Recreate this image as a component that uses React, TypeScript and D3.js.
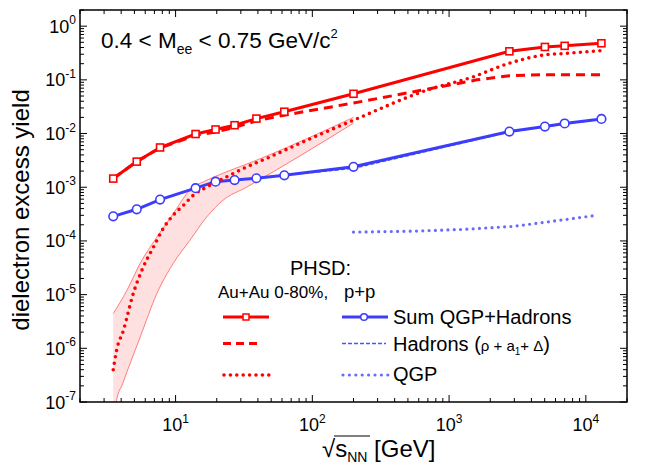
import React from 'react';
import * as d3 from 'd3';

const W = 648, H = 466;
const X0 = 80, X1 = 627, Y0 = 10, Y1 = 402;

// Au+Au 0-80% : Sum QGP + Hadrons (solid, squares)
const energiesAA = [3.5, 5.2, 7.7, 14, 19.6, 27, 39, 62.4, 200, 2760, 5020, 7000, 13000];
const sumAA = [1.45e-3, 3.0e-3, 5.5e-3, 9.8e-3, 1.19e-2, 1.43e-2, 1.9e-2, 2.55e-2, 5.5e-2, 0.34, 0.41, 0.43, 0.48];
// Au+Au hadrons (dashed)
const hadronEnergiesAA = [3.5, 5.2, 7.7, 14, 19.6, 27, 39, 62.4, 200, 1600, 2760, 5020, 7000, 13000];
const hadronAA = [1.45e-3, 3.0e-3, 5.4e-3, 9.3e-3, 1.07e-2, 1.3e-2, 1.72e-2, 2.2e-2, 3.7e-2, 0.10, 0.119, 0.125, 0.125, 0.124];
// Au+Au QGP (dotted)
const qgpEnergiesAA = [3.5, 3.7, 4.15, 4.9, 5.8, 6.9, 8.1, 9.6, 11.4, 13.5, 16.9, 22.3, 31.3, 49, 91, 200, 686, 1500, 2740, 4940, 6920, 12850];
const qgpAA = [4.0e-7, 9.1e-7, 2.14e-6, 1.04e-5, 3.25e-5, 7.7e-5, 1.69e-4, 3.0e-4, 4.6e-4, 7.1e-4, 1.01e-3, 1.45e-3, 2.23e-3, 3.67e-3, 7.5e-3, 1.77e-2, 6.4e-2, 0.114, 0.203, 0.29, 0.31, 0.35];
// QGP uncertainty band
const bandUpperE = [3.5, 4.4, 5.5, 7.3, 9.6, 12.7, 16.9, 22.2, 39, 200];
const bandUpper = [4.45e-6, 1.19e-5, 3.8e-5, 1.18e-4, 3.2e-4, 8.8e-4, 1.35e-3, 1.82e-3, 3.18e-3, 2.0e-2];
const bandLowerE = [3.5, 3.7, 4.1, 5.5, 7.3, 9.6, 12.7, 16.9, 22.2, 33, 200];
const bandLower = [4e-8, 1.06e-7, 2.2e-7, 1.6e-6, 1.05e-5, 3.8e-5, 1.02e-4, 2.8e-4, 5.7e-4, 1.0e-3, 1.56e-2];

// p+p : Sum (solid, circles)
const energiesPP = [3.5, 5.2, 7.7, 14, 19.6, 27, 39, 62.4, 200, 2760, 5020, 7000, 13000];
const sumPP = [2.87e-4, 3.88e-4, 5.9e-4, 9.6e-4, 1.27e-3, 1.36e-3, 1.47e-3, 1.67e-3, 2.4e-3, 1.09e-2, 1.35e-2, 1.54e-2, 1.87e-2];
const hadronPP = [2.87e-4, 3.88e-4, 5.9e-4, 9.6e-4, 1.27e-3, 1.36e-3, 1.47e-3, 1.67e-3, 2.25e-3, 1.07e-2, 1.33e-2, 1.52e-2, 1.84e-2];
// p+p QGP (dotted)
const qgpEnergiesPP = [200, 545, 1270, 2950, 5180, 12000];
const qgpPP = [1.46e-4, 1.52e-4, 1.64e-4, 1.87e-4, 2.25e-4, 3.0e-4];

const yTickExps = [0, -1, -2, -3, -4, -5, -6, -7];
const xTickExps = [1, 2, 3, 4];

const RED = '#ff0000';
const BLUE = '#3c3cff';
const BLUE_LIGHT = '#6a6aff';
const FONT = 'Liberation Sans, Arial, sans-serif';

export default function App() {
  const x = d3.scaleLog().domain([2, 2e4]).range([X0, X1]);
  const y = d3.scaleLog().domain([1e-7, 2]).range([Y1, Y0]);

  const line = (xs: number[], ys: number[], curve: d3.CurveFactory = d3.curveLinear) =>
    d3.line<number>()
      .x((_, i) => x(xs[i]))
      .y((v) => y(v))
      .curve(curve)(ys) || '';

  const upperPts: [number, number][] = bandUpperE.map((e, i) => [x(e), y(bandUpper[i])]);
  const lowerPts: [number, number][] = bandLowerE.map((e, i) => [x(e), y(bandLower[i])]);
  const upperPath = d3.line().curve(d3.curveMonotoneX)(upperPts) || '';
  const lowerPath = d3.line().curve(d3.curveMonotoneX)(lowerPts) || '';
  const lowerRev = d3.line().curve(d3.curveMonotoneX)(lowerPts.slice().reverse()) || '';
  const bandPath = upperPath + 'L' + lowerRev.slice(1) + 'Z';

  // minor ticks
  const xMinor: number[] = [];
  for (let d = 0; d <= 4; d++) for (let k = 1; k <= 9; k++) {
    const v = k * Math.pow(10, d);
    if (v >= 2 && v <= 2e4) xMinor.push(v);
  }
  const yMinor: number[] = [];
  for (let d = -7; d <= 0; d++) for (let k = 1; k <= 9; k++) {
    const v = k * Math.pow(10, d);
    if (v >= 1e-7 && v <= 2) yMinor.push(v);
  }
  const isMajor = (v: number) => Math.abs(Math.log10(v) - Math.round(Math.log10(v))) < 1e-9;

  return (
    <svg width={W} height={H} style={{ position: 'absolute', left: 0, top: 0, background: '#fff' }}
      fontFamily={FONT}>
      <defs>
        <clipPath id="plot">
          <rect x={X0} y={Y0} width={X1 - X0} height={Y1 - Y0} />
        </clipPath>
      </defs>

      <g clipPath="url(#plot)">
        {/* QGP band */}
        <path d={bandPath} fill="#ffe0e0" stroke="none" />
        <path d={upperPath} fill="none" stroke="#ff6060" strokeWidth={0.8} />
        <path d={lowerPath} fill="none" stroke="#ff6060" strokeWidth={0.8} />

        {/* p+p */}
        <path d={line(qgpEnergiesPP, qgpPP)} fill="none" stroke={BLUE_LIGHT} strokeWidth={3.2}
          strokeDasharray="0,6.3" strokeLinecap="round" />
        <path d={line(energiesPP, hadronPP)} fill="none" stroke="#5050ff" strokeWidth={1.4}
          strokeDasharray="4,2" />
        <path d={line(energiesPP, sumPP)} fill="none" stroke={BLUE} strokeWidth={3} />

        {/* Au+Au */}
        <path d={line(qgpEnergiesAA, qgpAA, d3.curveMonotoneX)} fill="none" stroke={RED} strokeWidth={3.6}
          strokeDasharray="0,6.5" strokeLinecap="round" />
        <path d={line(hadronEnergiesAA, hadronAA)} fill="none" stroke={RED} strokeWidth={3}
          strokeDasharray="9,6" />
        <path d={line(energiesAA, sumAA)} fill="none" stroke={RED} strokeWidth={3} />

        {energiesPP.map((e, i) => (
          <circle key={'c' + i} cx={x(e)} cy={y(sumPP[i])} r={4.3} fill="#fff" stroke={BLUE} strokeWidth={1.6} />
        ))}
        {energiesAA.map((e, i) => (
          <rect key={'s' + i} x={x(e) - 3.5} y={y(sumAA[i]) - 3.5} width={7} height={7}
            fill="#fff" stroke={RED} strokeWidth={1.6} />
        ))}
      </g>

      {/* frame */}
      <rect x={X0} y={Y0} width={X1 - X0} height={Y1 - Y0} fill="none" stroke="#000" strokeWidth={1.5} />

      {/* x ticks */}
      {xMinor.map((v, i) => {
        const len = isMajor(v) ? 7 : 4;
        return (
          <g key={'xt' + i}>
            <line x1={x(v)} x2={x(v)} y1={Y1} y2={Y1 - len} stroke="#000" strokeWidth={1} />
            <line x1={x(v)} x2={x(v)} y1={Y0} y2={Y0 + len} stroke="#000" strokeWidth={1} />
          </g>
        );
      })}
      {/* y ticks */}
      {yMinor.map((v, i) => {
        const len = isMajor(v) ? 7 : 4;
        return (
          <g key={'yt' + i}>
            <line x1={X0} x2={X0 + len} y1={y(v)} y2={y(v)} stroke="#000" strokeWidth={1} />
            <line x1={X1} x2={X1 - len} y1={y(v)} y2={y(v)} stroke="#000" strokeWidth={1} />
          </g>
        );
      })}

      {/* y tick labels */}
      {yTickExps.map((p) => (
        <text key={'yl' + p} x={X0 - 4} y={y(Math.pow(10, p)) + 6.5} textAnchor="end" fontSize={18}>
          10<tspan fontSize={12} dy={-8.5}>{p}</tspan>
        </text>
      ))}
      {/* x tick labels */}
      {xTickExps.map((p) => (
        <text key={'xl' + p} x={x(Math.pow(10, p))} y={431} textAnchor="middle" fontSize={18}>
          10<tspan fontSize={12} dy={-8.5}>{p}</tspan>
        </text>
      ))}

      {/* axis titles */}
      <text transform="translate(29,210) rotate(-90)" textAnchor="middle" fontSize={24}>dielectron excess yield</text>
      <g>
        <text x={322} y={457} fontSize={24}>√<tspan>s</tspan><tspan fontSize={14} dy={5}>NN</tspan><tspan dy={-5}> [GeV]</tspan></text>
        <line x1={334} x2={370} y1={436} y2={436} stroke="#000" strokeWidth={1.2} />
      </g>

      {/* mass window annotation */}
      <text x={101} y={48} fontSize={22.5}>
        0.4 &lt; M<tspan fontSize={14} dy={6}>ee</tspan><tspan dy={-6}> &lt; 0.75 GeV/c</tspan><tspan fontSize={13} dy={-10}>2</tspan>
      </text>

      {/* legend */}
      <text x={290} y={275} fontSize={20}>PHSD:</text>
      <text x={218} y={298} fontSize={17}>Au+Au 0-80%,</text>
      <text x={344} y={298} fontSize={18.5}>p+p</text>

      <line x1={223} x2={269} y1={317} y2={317} stroke={RED} strokeWidth={3} />
      <rect x={243} y={314} width={6} height={6} fill="#fff" stroke={RED} strokeWidth={1.5} />
      <line x1={342} x2={388} y1={317} y2={317} stroke={BLUE} strokeWidth={3} />
      <circle cx={364} cy={317} r={3.3} fill="#fff" stroke={BLUE} strokeWidth={1.5} />
      <text x={393} y={324} fontSize={20}>Sum QGP+Hadrons</text>

      <line x1={223} x2={262} y1={343.5} y2={343.5} stroke={RED} strokeWidth={3} strokeDasharray="8,5" />
      <line x1={342} x2={386} y1={343.5} y2={343.5} stroke="#5050ff" strokeWidth={1.4} strokeDasharray="4,2" />
      <text x={393} y={351} fontSize={20}>
        Hadrons (<tspan fontSize={15}>ρ + a</tspan><tspan fontSize={10} dy={4}>1</tspan><tspan fontSize={15} dy={-4}>+ Δ</tspan>)
      </text>

      <line x1={224} x2={269} y1={375} y2={375} stroke={RED} strokeWidth={3.6} strokeDasharray="0,6.4" strokeLinecap="round" />
      <line x1={343} x2={388} y1={375} y2={375} stroke={BLUE_LIGHT} strokeWidth={3.2} strokeDasharray="0,6.4" strokeLinecap="round" />
      <text x={393} y={381} fontSize={20}>QGP</text>
    </svg>
  );
}
